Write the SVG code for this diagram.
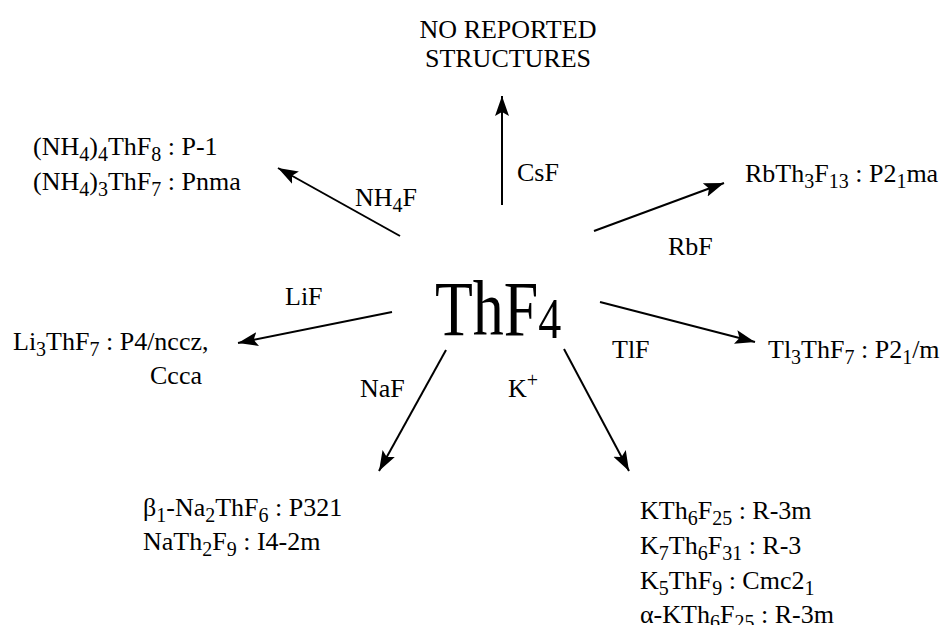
<svg xmlns="http://www.w3.org/2000/svg" width="950" height="625" viewBox="0 0 950 625">
<defs>
<style>
text{font-family:"Liberation Serif","Times New Roman",serif;font-size:26px;fill:#000}
.sub{font-size:20px}
.big{font-size:62px}
.bigsub{font-size:46px}
.conn line{stroke:#000;stroke-width:2;fill:none}
</style>
<marker id="ah" markerUnits="userSpaceOnUse" markerWidth="22" markerHeight="16" refX="20" refY="7" orient="auto" viewBox="0 0 22 14">
<path d="M0,0 L20,7 L0,14 L4,7 Z" fill="#000"/>
</marker>
</defs>
<rect width="950" height="625" fill="#fff"/>
<g id="connectors" class="conn">
<line x1="502" y1="205" x2="502" y2="96" marker-end="url(#ah)"/>
<line x1="400" y1="236" x2="278" y2="168" marker-end="url(#ah)"/>
<line x1="594" y1="231" x2="724" y2="183" marker-end="url(#ah)"/>
<line x1="392" y1="312" x2="238" y2="343" marker-end="url(#ah)"/>
<line x1="600" y1="302" x2="755" y2="342" marker-end="url(#ah)"/>
<line x1="446" y1="350" x2="379" y2="471" marker-end="url(#ah)"/>
<line x1="564" y1="349" x2="629" y2="471" marker-end="url(#ah)"/>
</g>
<g id="center"><text class="big" transform="translate(435,335) scale(1,1.26)">ThF<tspan class="bigsub" dy="2.4">4</tspan></text></g>
<g id="cs">
<text x="508" y="38" text-anchor="middle">NO REPORTED</text>
<text x="508" y="67" text-anchor="middle">STRUCTURES</text>
</g>
<g id="nh4">
<text x="33" y="155">(NH<tspan class="sub" dy="6">4</tspan><tspan dy="-6">)</tspan><tspan class="sub" dy="6">4</tspan><tspan dy="-6">ThF</tspan><tspan class="sub" dy="6">8</tspan><tspan dy="-6"> : P-1</tspan></text>
<text x="33" y="190">(NH<tspan class="sub" dy="6">4</tspan><tspan dy="-6">)</tspan><tspan class="sub" dy="6">3</tspan><tspan dy="-6">ThF</tspan><tspan class="sub" dy="6">7</tspan><tspan dy="-6"> : Pnma</tspan></text>
</g>
<g id="rb"><text x="745" y="182">RbTh<tspan class="sub" dy="6">3</tspan><tspan dy="-6">F</tspan><tspan class="sub" dy="6">13</tspan><tspan dy="-6"> : P2</tspan><tspan class="sub" dy="6">1</tspan><tspan dy="-6">ma</tspan></text></g>
<g id="li">
<text x="13" y="350">Li<tspan class="sub" dy="6">3</tspan><tspan dy="-6">ThF</tspan><tspan class="sub" dy="6">7</tspan><tspan dy="-6"> : P4/nccz,</tspan></text>
<text x="150" y="384">Ccca</text>
</g>
<g id="tl"><text x="768" y="358">Tl<tspan class="sub" dy="6">3</tspan><tspan dy="-6">ThF</tspan><tspan class="sub" dy="6">7</tspan><tspan dy="-6"> : P2</tspan><tspan class="sub" dy="6">1</tspan><tspan dy="-6">/m</tspan></text></g>
<g id="na">
<text x="143" y="516">β<tspan class="sub" dy="6">1</tspan><tspan dy="-6">-Na</tspan><tspan class="sub" dy="6">2</tspan><tspan dy="-6">ThF</tspan><tspan class="sub" dy="6">6</tspan><tspan dy="-6"> : P321</tspan></text>
<text x="143" y="550">NaTh<tspan class="sub" dy="6">2</tspan><tspan dy="-6">F</tspan><tspan class="sub" dy="6">9</tspan><tspan dy="-6"> : I4-2m</tspan></text>
</g>
<g id="k">
<text x="640" y="519">KTh<tspan class="sub" dy="6">6</tspan><tspan dy="-6">F</tspan><tspan class="sub" dy="6">25</tspan><tspan dy="-6"> : R-3m</tspan></text>
<text x="640" y="554">K<tspan class="sub" dy="6">7</tspan><tspan dy="-6">Th</tspan><tspan class="sub" dy="6">6</tspan><tspan dy="-6">F</tspan><tspan class="sub" dy="6">31</tspan><tspan dy="-6"> : R-3</tspan></text>
<text x="640" y="589">K<tspan class="sub" dy="6">5</tspan><tspan dy="-6">ThF</tspan><tspan class="sub" dy="6">9</tspan><tspan dy="-6"> : Cmc2</tspan><tspan class="sub" dy="6">1</tspan></text>
<text x="640" y="623">α-KTh<tspan class="sub" dy="6">6</tspan><tspan dy="-6">F</tspan><tspan class="sub" dy="6">25</tspan><tspan dy="-6"> : R-3m</tspan></text>
</g>
<g id="labels">
<text x="517" y="181">CsF</text>
<text x="355" y="206">NH<tspan class="sub" dy="6">4</tspan><tspan dy="-6">F</tspan></text>
<text x="668" y="255">RbF</text>
<text x="285" y="305">LiF</text>
<text x="612" y="358">TlF</text>
<text x="360" y="397">NaF</text>
<text x="508" y="397">K<tspan class="sub" dy="-10">+</tspan></text>
</g>
</svg>
